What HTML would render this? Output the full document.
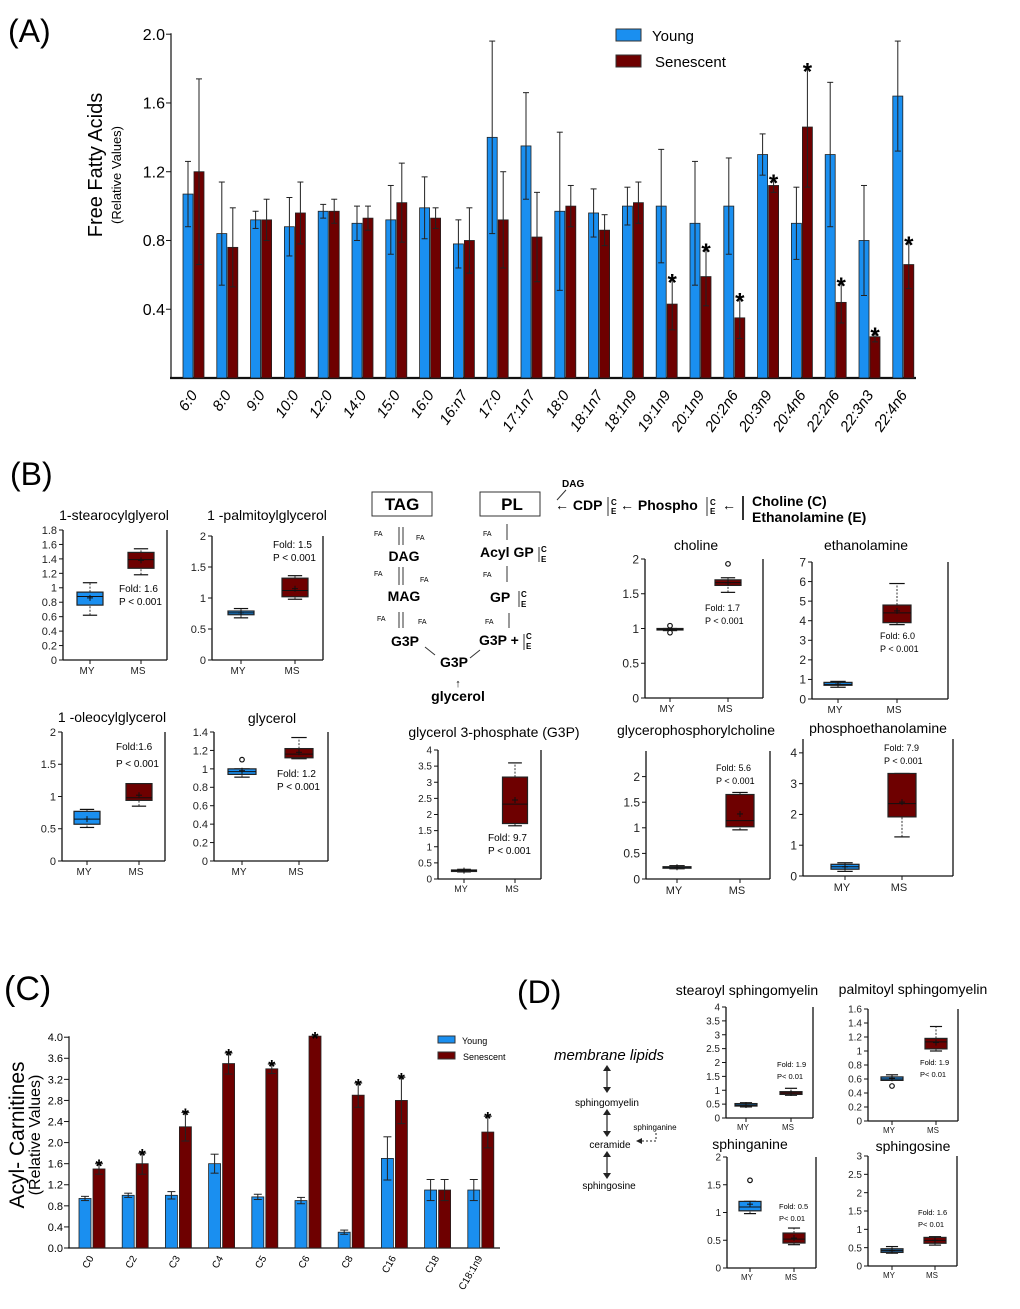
<!DOCTYPE html>
<html><head><meta charset="utf-8"><style>
html,body{margin:0;padding:0;background:#fff;}
svg{display:block;font-family:"Liberation Sans",sans-serif;}
</style></head><body>
<svg id="fig" width="1020" height="1309" viewBox="0 0 1020 1309" xmlns="http://www.w3.org/2000/svg">
<text x="8" y="42" font-size="32">(A)</text>
<text x="10" y="485" font-size="32">(B)</text>
<text x="4" y="1000" font-size="34">(C)</text>
<text x="517" y="1003" font-size="32">(D)</text>

<g>
<text transform="translate(102,165) rotate(-90)" text-anchor="middle" font-size="20">Free Fatty Acids</text>
<text transform="translate(121,175) rotate(-90)" text-anchor="middle" font-size="13">(Relative Values)</text>
</g>
<g>
<rect x="616" y="29" width="25" height="12" fill="#1a8ff0" stroke="#333"/>
<text x="652" y="41" font-size="15">Young</text>
<rect x="616" y="55" width="25" height="12" fill="#6e0000" stroke="#333"/>
<text x="655" y="67" font-size="15">Senescent</text>
</g>
<g id="chartA"></g>

<g>
<text transform="translate(24,1135) rotate(-90)" text-anchor="middle" font-size="21">Acyl- Carnitines</text>
<text transform="translate(40,1135) rotate(-90)" text-anchor="middle" font-size="16">(Relative Values)</text>
</g>
<g>
<rect x="438" y="1036" width="17" height="7" fill="#1a8ff0" stroke="#333"/>
<text x="462" y="1044" font-size="9">Young</text>
<rect x="438" y="1052" width="17" height="7" fill="#6e0000" stroke="#333"/>
<text x="463" y="1060" font-size="9">Senescent</text>
</g>
<g id="chartC"></g>

<g font-weight="bold">
<rect x="372" y="492" width="60" height="24" fill="none" stroke="#333"/>
<text x="402" y="510" font-size="17" text-anchor="middle">TAG</text>
<rect x="480" y="492" width="60" height="24" fill="none" stroke="#333"/>
<text x="512" y="510" font-size="17" text-anchor="middle">PL</text>
<text x="562" y="487" font-size="10">DAG</text>
<text x="555" y="510" font-size="14">← CDP</text>
<text x="611" y="505" font-size="8">C</text><text x="611" y="514" font-size="8">E</text>
<line x1="608" y1="497" x2="608" y2="516" stroke="#333"/>
<text x="620" y="510" font-size="14">← Phospho</text>
<text x="710" y="505" font-size="8">C</text><text x="710" y="514" font-size="8">E</text>
<line x1="707" y1="497" x2="707" y2="516" stroke="#333"/>
<text x="722" y="510" font-size="14">←</text>
<line x1="743" y1="496" x2="743" y2="520" stroke="#333" stroke-width="2"/>
<text x="752" y="506" font-size="14">Choline (C)</text>
<text x="752" y="522" font-size="14">Ethanolamine (E)</text>
<text x="404" y="561" font-size="14" text-anchor="middle">DAG</text>
<text x="404" y="601" font-size="14" text-anchor="middle">MAG</text>
<text x="405" y="646" font-size="14" text-anchor="middle">G3P</text>
<text x="454" y="667" font-size="14" text-anchor="middle">G3P</text>
<text x="458" y="701" font-size="14" text-anchor="middle">glycerol</text>
<text x="458" y="687" font-size="11" font-weight="normal" text-anchor="middle">↑</text>
<text x="480" y="557" font-size="14">Acyl GP</text>
<text x="490" y="602" font-size="14">GP</text>
<text x="479" y="645" font-size="14">G3P +</text>
<g font-size="7" font-weight="normal">
<text x="374" y="536">FA</text><text x="416" y="540">FA</text>
<text x="374" y="576">FA</text><text x="420" y="582">FA</text>
<text x="377" y="621">FA</text><text x="418" y="624">FA</text>
<text x="483" y="536">FA</text><text x="483" y="577">FA</text><text x="485" y="624">FA</text>
</g>
<g stroke="#333" fill="none" stroke-width="1">
<line x1="399" y1="527" x2="399" y2="545"/><line x1="403" y1="527" x2="403" y2="545"/>
<line x1="399" y1="567" x2="399" y2="585"/><line x1="403" y1="567" x2="403" y2="585"/>
<line x1="399" y1="612" x2="399" y2="628"/><line x1="403" y1="612" x2="403" y2="628"/>
<line x1="507" y1="524" x2="507" y2="540"/><line x1="507" y1="566" x2="507" y2="582"/><line x1="509" y1="613" x2="509" y2="628"/>
<line x1="425" y1="647" x2="435" y2="655"/><line x1="470" y1="658" x2="480" y2="650"/>
<line x1="566" y1="490" x2="557" y2="500"/>
<line x1="539" y1="547" x2="539" y2="562"/><line x1="519" y1="591" x2="519" y2="607"/><line x1="524" y1="634" x2="524" y2="650"/>
</g>
<g font-size="8"><text x="541" y="552">C</text><text x="541" y="562">E</text><text x="521" y="597">C</text><text x="521" y="607">E</text><text x="526" y="639">C</text><text x="526" y="649">E</text></g>
</g>

<g>
<text x="609" y="1060" font-size="15" font-style="italic" text-anchor="middle">membrane lipids</text>
<text x="607" y="1106" font-size="10" text-anchor="middle">sphingomyelin</text>
<text x="610" y="1148" font-size="10" text-anchor="middle">ceramide</text>
<text x="609" y="1189" font-size="10" text-anchor="middle">sphingosine</text>
<text x="655" y="1130" font-size="8" text-anchor="middle">sphinganine</text>
<g stroke="#222" stroke-width="1.2">
<line x1="607" y1="1068" x2="607" y2="1090"/><line x1="607" y1="1112" x2="607" y2="1134"/><line x1="607" y1="1154" x2="607" y2="1176"/>
</g>
<g fill="#222">
<path d="M603,1071 L607,1065 L611,1071Z"/><path d="M603,1087 L607,1093 L611,1087Z"/>
<path d="M603,1115 L607,1109 L611,1115Z"/><path d="M603,1131 L607,1137 L611,1131Z"/>
<path d="M603,1157 L607,1151 L611,1157Z"/><path d="M603,1173 L607,1179 L611,1173Z"/>
<path d="M636,1141 L642,1138 L642,1144Z"/>
</g>
<path d="M642,1141 L656,1141 L656,1131" stroke="#222" stroke-dasharray="2,2" fill="none"/>
</g>
<g id="boxes"></g>
</svg>
<script>
const faCategories = ["6:0","8:0","9:0","10:0","12:0","14:0","15:0","16:0","16:n7","17:0","17:1n7","18:0","18:1n7","18:1n9","19:1n9","20:1n9","20:2n6","20:3n9","20:4n6","22:2n6","22:3n3","22:4n6"];
const faYoung = [1.07,0.84,0.92,0.88,0.97,0.90,0.92,0.99,0.78,1.40,1.35,0.97,0.96,1.00,1.00,0.90,1.00,1.30,0.90,1.30,0.80,1.64];
const faYoungErr = [0.19,0.30,0.05,0.17,0.04,0.10,0.20,0.18,0.14,0.56,0.31,0.46,0.14,0.11,0.33,0.36,0.28,0.12,0.21,0.42,0.32,0.32];
const faSen = [1.20,0.76,0.92,0.96,0.97,0.93,1.02,0.93,0.80,0.92,0.82,1.00,0.86,1.02,0.43,0.59,0.35,1.12,1.46,0.44,0.24,0.66];
const faSenErr = [0.54,0.23,0.12,0.18,0.07,0.07,0.23,0.06,0.19,0.28,0.26,0.12,0.09,0.12,0.15,0.17,0.12,0.04,0.35,0.12,0.03,0.14];
const faStars = [0,0,0,0,0,0,0,0,0,0,0,0,0,0,1,1,1,1,1,1,1,1];
const faTicks = [0.4,0.8,1.2,1.6,2.0];
const faTickLabels = ["0.4","0.8","1.2","1.6","2.0"];

const acCategories = ["C0","C2","C3","C4","C5","C6","C8","C16","C18","C18:1n9"];
const acYoung = [0.94,1.00,1.00,1.60,0.97,0.90,0.30,1.70,1.10,1.10];
const acYoungErr = [0.04,0.04,0.07,0.18,0.05,0.06,0.04,0.41,0.20,0.20];
const acSen = [1.50,1.60,2.30,3.50,3.40,4.02,2.90,2.80,1.10,2.20];
const acSenErr = [0.10,0.20,0.27,0.20,0.09,0.00,0.23,0.44,0.20,0.30];
const acStars = [1,1,1,1,1,1,1,1,0,1];
const acTicks = [0,0.4,0.8,1.2,1.6,2.0,2.4,2.8,3.2,3.6,4.0];
const acTickLabels = ["0.0","0.4","0.8","1.2","1.6","2.0","2.4","2.8","3.2","3.6","4.0"];

const stearocylMY = [0.62,0.76,0.88,0.94,1.07,0.86];
const stearocylMS = [1.18,1.27,1.39,1.49,1.54,1.38];
const palmitoylMY = [0.68,0.73,0.76,0.79,0.83,0.76];
const palmitoylMS = [0.98,1.02,1.12,1.32,1.36,1.15];
const oleocylMY = [0.52,0.57,0.65,0.77,0.80,0.65];
const oleocylMS = [0.85,0.94,0.98,1.20,1.20,1.02];
const glycerolMY = [0.91,0.94,0.97,1.00,1.00,0.98];
const glycerolMS = [1.11,1.12,1.16,1.22,1.34,1.18];
const cholineMY = [0.97,0.98,0.99,1.00,1.00,0.99];
const cholineMS = [1.52,1.62,1.66,1.70,1.73,1.66];
const ethanolMY = [0.60,0.70,0.75,0.85,0.90,0.76];
const ethanolMS = [3.80,3.90,4.40,4.80,5.90,4.50];
const g3pMY = [0.22,0.24,0.26,0.28,0.30,0.26];
const g3pMS = [1.65,1.72,2.32,3.16,3.60,2.45];
const gpcMY = [0.20,0.22,0.23,0.24,0.26,0.23];
const gpcMS = [0.96,1.02,1.14,1.65,1.69,1.27];
const peMY = [0.15,0.22,0.30,0.38,0.43,0.30];
const peMS = [1.27,1.92,2.35,3.33,3.33,2.40];
const ssmMY = [0.40,0.43,0.47,0.52,0.55,0.47];
const ssmMS = [0.82,0.85,0.90,0.95,1.07,0.90];
const psmMY = [0.58,0.58,0.60,0.63,0.66,0.61];
const psmMS = [1.00,1.03,1.13,1.18,1.35,1.12];
const sphinganineMY = [0.98,1.03,1.10,1.20,1.20,1.15];
const sphinganineMS = [0.42,0.45,0.52,0.63,0.72,0.54];
const sphingosineMY = [0.35,0.37,0.42,0.47,0.53,0.42];
const sphingosineMS = [0.57,0.62,0.70,0.78,0.80,0.70];
const glycerolMYOut = [1.10];
const cholineMYOut = [0.94,1.04];
const cholineMSOut = [1.93];
const psmMYOut = [0.50];
const sphinganineMYOut = [1.58];

const NS = "http://www.w3.org/2000/svg";
function mk(tag, attrs, parent){ const e=document.createElementNS(NS,tag); for(const k in attrs) e.setAttribute(k,attrs[k]); parent.appendChild(e); return e; }
const BLUE="#1a8ff0", RED="#6e0000";

function barChart(g, o){
  const y = v => o.y0 - v*o.k;
  const xg = i => o.x0 + i*o.step;
  const ax = mk("line",{x1:o.ax0,y1:o.y0,x2:o.ax1,y2:o.y0,stroke:"#111","stroke-width":o.aw},g);
  
  
  const ay = mk("line",{x1:o.ax0+1,y1:o.y0,x2:o.ax0+1,y2:y(o.ticks[o.ticks.length-1])-1,stroke:"#111","stroke-width":1.2},g);
  
  
  o.ticks.forEach((t,i)=>{
    mk("line",{x1:o.ax0-4,y1:y(t),x2:o.ax0+1,y2:y(t),stroke:"#111"},g);
    const tl = mk("text",{x:o.ax0-5,y:y(t)+o.tf*0.36,"font-size":o.tf,"text-anchor":"end"},g);
    tl.textContent = o.tickLabels[i];
    
    
  });
  o.cats.forEach((c,i)=>{
    const x = xg(i);
    [[o.a,o.ae,BLUE,0],[o.b,o.be,RED,o.off]].forEach(([vals,errs,col,dx],s)=>{
      const v=vals[i], e=errs[i], bx=x+dx;
      const r = mk("rect",{x:bx,y:y(v),width:o.bw,height:o.y0-y(v),fill:col,stroke:"#222","stroke-width":0.8},g);
      
      
      const cx=bx+o.bw/2;
      if(e>0){
        mk("line",{x1:cx,y1:y(v-e),x2:cx,y2:y(v+e),stroke:"#222","stroke-width":1},g);
        mk("line",{x1:cx-o.cap,y1:y(v+e),x2:cx+o.cap,y2:y(v+e),stroke:"#222","stroke-width":1},g);
        mk("line",{x1:cx-o.cap,y1:y(v-e),x2:cx+o.cap,y2:y(v-e),stroke:"#222","stroke-width":1},g);
      }
      if(s===1 && o.stars[i]){
        const st = mk("text",{x:cx,y:y(v+e)-2+o.sf*0.6,"font-size":o.sf,"font-weight":"bold","text-anchor":"middle"},g);
        st.textContent="*";
        
        
      }
    });
    const lx = x + o.off + o.bw/2 + o.lshift;
    const lab = mk("text",{x:lx,y:o.y0+o.ly,"font-size":o.lf,"font-style":o.fs||"normal","text-anchor":"end",transform:`rotate(${o.rot},${lx},${o.y0+o.ly})`},g);
    lab.textContent=c;
    
    
  });
}

barChart(document.getElementById("chartA"),{cats:faCategories,a:faYoung,ae:faYoungErr,b:faSen,be:faSenErr,stars:faStars,
  ticks:faTicks,tickLabels:faTickLabels,y0:378,k:171.9,x0:183,step:33.8,bw:10,off:11,cap:3,ax0:170,ax1:916,aw:2.2,
  tf:16,sf:24,lf:15,ly:17,lshift:-1,rot:-55,fs:"italic"});
barChart(document.getElementById("chartC"),{cats:acCategories,a:acYoung,ae:acYoungErr,b:acSen,be:acSenErr,stars:acStars,
  ticks:acTicks,tickLabels:acTickLabels,y0:1248,k:52.7,x0:79,step:43.2,bw:12,off:14,cap:4,ax0:68,ax1:500,aw:1.2,
  tf:11,sf:18,lf:10,ly:10,lshift:-5,rot:-60});

function boxChart(o){
  const root=document.getElementById("boxes");
  const g = mk("g",{},root);
  
  
  const y = v => o.B - v*(o.B-o.T)/o.vmax;
  mk("line",{x1:o.L,y1:o.T,x2:o.L,y2:o.B,stroke:"#111","stroke-width":1.3},g);
  mk("line",{x1:o.L,y1:o.B,x2:o.R,y2:o.B,stroke:"#111","stroke-width":1.3},g);
  mk("line",{x1:o.R,y1:o.T,x2:o.R,y2:o.B,stroke:"#111","stroke-width":1.3},g);
  o.ticks.forEach(t=>{
    mk("line",{x1:o.L-4,y1:y(t),x2:o.L,y2:y(t),stroke:"#111"},g);
    const tl = mk("text",{x:o.L-6,y:y(t)+o.tf*0.36,"font-size":o.tf,"text-anchor":"end",fill:"#222"},g);
    tl.textContent = String(t);
    
    
  });
  const tt = mk("text",{x:o.title[0],y:o.title[1],"font-size":o.ttf||14,"text-anchor":"middle"},g);
  tt.textContent=o.titleText;
  
  
  [["MY",o.xMY,o.MY,o.outMY,o.colMY||BLUE],["MS",o.xMS,o.MS,o.outMS,RED]].forEach(([lbl,x,d,out,col])=>{
    mk("line",{x1:x,y1:o.B,x2:x,y2:o.B+4,stroke:"#111"},g);
    const cl = mk("text",{x:x-3,y:o.B+o.lf+4,"font-size":o.lf,"text-anchor":"middle",fill:"#222"},g);
    cl.textContent=lbl;
    
    
    const h=o.bw/2;
    mk("line",{x1:x,y1:y(d[0]),x2:x,y2:y(d[1]),stroke:"#333","stroke-dasharray":"2,1.5"},g);
    mk("line",{x1:x,y1:y(d[3]),x2:x,y2:y(d[4]),stroke:"#333","stroke-dasharray":"2,1.5"},g);
    mk("line",{x1:x-h*0.55,y1:y(d[0]),x2:x+h*0.55,y2:y(d[0]),stroke:"#111","stroke-width":1.2},g);
    mk("line",{x1:x-h*0.55,y1:y(d[4]),x2:x+h*0.55,y2:y(d[4]),stroke:"#111","stroke-width":1.2},g);
    const bx = mk("rect",{x:x-h,y:y(d[3]),width:o.bw,height:Math.max(1.5,y(d[1])-y(d[3])),fill:col,stroke:"#222","stroke-width":1.2},g);
    
    
    mk("line",{x1:x-h,y1:y(d[2]),x2:x+h,y2:y(d[2]),stroke:"#111","stroke-width":1},g);
    mk("line",{x1:x-3,y1:y(d[5]),x2:x+3,y2:y(d[5]),stroke:"#111"},g);
    mk("line",{x1:x,y1:y(d[5])-3,x2:x,y2:y(d[5])+3,stroke:"#111"},g);
    (out||[]).forEach(v=>{
      const c = mk("circle",{cx:x,cy:y(v),r:2.3,fill:"#fff",stroke:"#111","stroke-width":1.2},g);
      
      
    });
  });
  const f1 = mk("text",{x:o.fold[0],y:o.fold[1],"font-size":o.ff||10},g);
  f1.textContent=o.foldText;
  
  
  const f2 = mk("text",{x:o.fold[0],y:o.fold[1]+(o.fg||13),"font-size":o.ff||10},g);
  f2.textContent=o.pText;
  
  
}
const r = (a,b,s)=>{const t=[];for(let v=a;v<=b+1e-9;v+=s)t.push(Math.round(v*10)/10);return t;};

boxChart({name:"stearocylglycerol-boxplot",titleText:"1-stearocylglyerol",title:[114,520],L:63,T:530,B:660,R:167,vmax:1.8,ticks:r(0,1.8,0.2),tf:11,lf:10,xMY:90,xMS:141,bw:26,MY:stearocylMY,MS:stearocylMS,fold:[119,592],foldText:"Fold: 1.6",pText:"P < 0.001"});
boxChart({name:"palmitoylglycerol-boxplot",titleText:"1 -palmitoylglycerol",title:[267,520],L:212,T:536,B:660,R:323,vmax:2,ticks:r(0,2,0.5),tf:11,lf:10,xMY:241,xMS:295,bw:26,MY:palmitoylMY,MS:palmitoylMS,fold:[273,548],foldText:"Fold: 1.5",pText:"P < 0.001"});
boxChart({name:"oleocylglycerol-boxplot",titleText:"1 -oleocylglycerol",title:[112,722],L:62,T:732,B:861,R:165,vmax:2,ticks:r(0,2,0.5),tf:11,lf:10,xMY:87,xMS:139,bw:26,MY:oleocylMY,MS:oleocylMS,fold:[116,750],foldText:"Fold:1.6",pText:"P < 0.001",fg:17});
boxChart({name:"glycerol-boxplot",titleText:"glycerol",title:[272,723],L:214,T:732,B:861,R:328,vmax:1.4,ticks:r(0,1.4,0.2),tf:11,lf:10,xMY:242,xMS:299,bw:28,MY:glycerolMY,MS:glycerolMS,outMY:glycerolMYOut,fold:[277,777],foldText:"Fold: 1.2",pText:"P < 0.001"});
boxChart({name:"choline-boxplot",titleText:"choline",title:[696,550],L:645,T:559,B:698,R:763,vmax:2,ticks:[0,0.5,1,1.5,2],tf:12,lf:10,xMY:670,xMS:728,bw:26,MY:cholineMY,MS:cholineMS,outMY:cholineMYOut,outMS:cholineMSOut,fold:[705,611],foldText:"Fold: 1.7",pText:"P < 0.001",ff:9});
boxChart({name:"ethanolamine-boxplot",titleText:"ethanolamine",title:[866,550],L:812,T:562,B:699,R:948,vmax:7,ticks:[0,1,2,3,4,5,6,7],tf:12,lf:10,xMY:838,xMS:897,bw:28,MY:ethanolMY,MS:ethanolMS,fold:[880,639],foldText:"Fold: 6.0",pText:"P < 0.001",ff:9});
boxChart({name:"g3p-boxplot",titleText:"glycerol 3-phosphate (G3P)",title:[494,737],L:438,T:750,B:879,R:541,vmax:4,ticks:r(0,4,0.5),tf:10,lf:9,xMY:464,xMS:515,bw:25,MY:g3pMY,MS:g3pMS,fold:[488,841],foldText:"Fold: 9.7",pText:"P < 0.001"});
boxChart({name:"glycerophosphorylcholine-boxplot",titleText:"glycerophosphorylcholine",title:[696,735],L:646,T:751,B:879,R:770,vmax:2.5,ticks:[0,0.5,1,1.5,2],tf:12,lf:11,xMY:677,xMS:740,bw:28,MY:gpcMY,MS:gpcMS,fold:[716,771],foldText:"Fold: 5.6",pText:"P < 0.001",ff:9});
boxChart({name:"phosphoethanolamine-boxplot",titleText:"phosphoethanolamine",title:[878,733],L:803,T:739,B:876,R:953,vmax:4.45,ticks:[0,1,2,3,4],tf:12,lf:11,xMY:845,xMS:902,bw:28,MY:peMY,MS:peMS,fold:[884,751],foldText:"Fold: 7.9",pText:"P < 0.001",ff:9});
boxChart({name:"stearoyl-sphingomyelin-boxplot",titleText:"stearoyl sphingomyelin",title:[747,995],L:726,T:1007,B:1118,R:813,vmax:4,ticks:r(0,4,0.5),tf:10,lf:8,xMY:746,xMS:791,bw:22,MY:ssmMY,MS:ssmMS,fold:[777,1067],foldText:"Fold: 1.9",pText:"P< 0.01",ff:7.5,fg:12});
boxChart({name:"palmitoyl-sphingomyelin-boxplot",titleText:"palmitoyl sphingomyelin",title:[913,994],L:868,T:1009,B:1121,R:958,vmax:1.6,ticks:r(0,1.6,0.2),tf:10,lf:8,xMY:892,xMS:936,bw:22,MY:psmMY,MS:psmMS,outMY:psmMYOut,fold:[920,1065],foldText:"Fold: 1.9",pText:"P< 0.01",ff:7.5,fg:12});
boxChart({name:"sphinganine-boxplot",titleText:"sphinganine",title:[750,1149],L:727,T:1157,B:1268,R:816,vmax:2,ticks:[0,0.5,1,1.5,2],tf:10,lf:8,xMY:750,xMS:794,bw:22,MY:sphinganineMY,MS:sphinganineMS,outMY:sphinganineMYOut,fold:[779,1209],foldText:"Fold: 0.5",pText:"P< 0.01",ff:7.5,fg:12});
boxChart({name:"sphingosine-boxplot",titleText:"sphingosine",title:[913,1151],L:868,T:1156,B:1266,R:957,vmax:3,ticks:r(0,3,0.5),tf:10,lf:8,xMY:892,xMS:935,bw:22,MY:sphingosineMY,MS:sphingosineMS,colMY:"#1f5d94",fold:[918,1215],foldText:"Fold: 1.6",pText:"P< 0.01",ff:7.5,fg:12});
</script>
</body></html>
